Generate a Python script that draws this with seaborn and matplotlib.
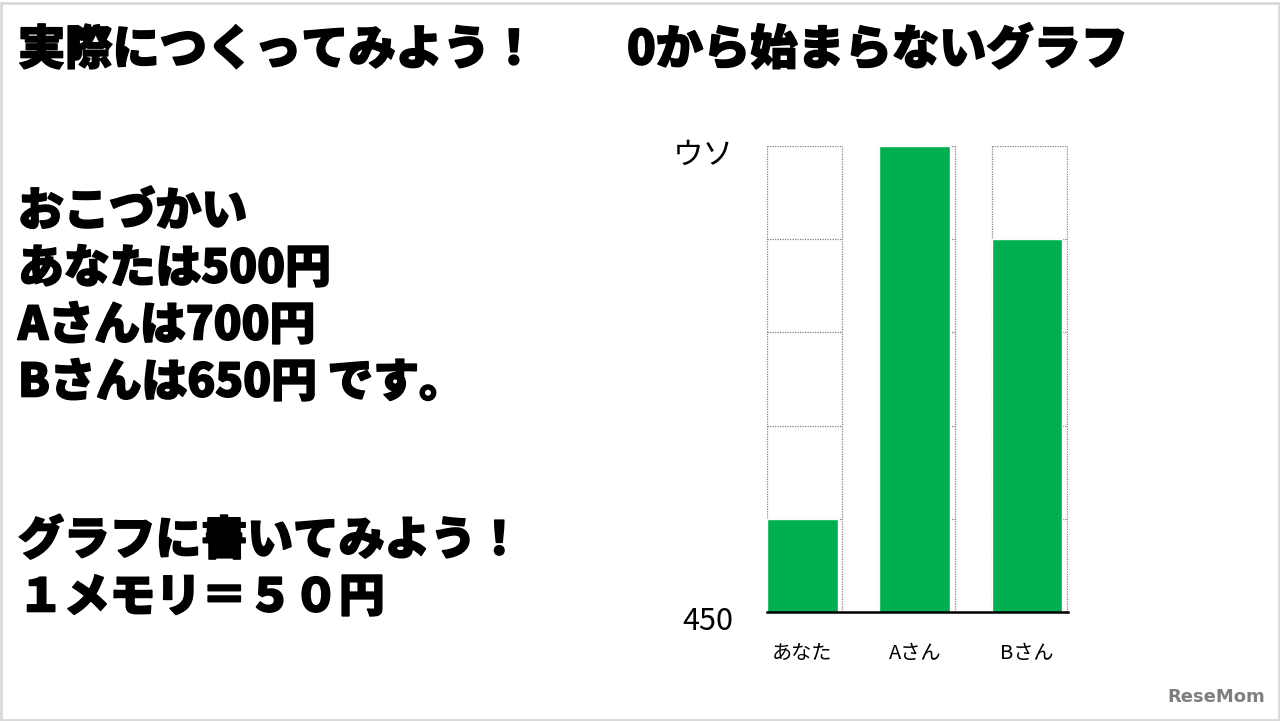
import matplotlib
matplotlib.use("Agg")
import matplotlib.pyplot as plt
import matplotlib.patheffects as pe
from matplotlib.transforms import ScaledTranslation
import seaborn as sns
import pandas as pd
from matplotlib.patches import Rectangle

# data
names = ["あなた", "Aさん", "Bさん"]
allowance = [500, 700, 650]
y_ticks = [450, 700]
y_tick_labels = ["450", "ウソ"]
grid_steps = [450, 500, 550, 600, 650, 700]

left_lines = ["おこづかい", "あなたは500円", "Aさんは700円", "Bさんは650円 です。"]
bottom_lines = ["グラフに書いてみよう！", "１メモリ＝５０円"]

sns.set_theme(style="white")
plt.rcParams["font.family"] = ["Noto Sans CJK JP", "DejaVu Sans"]
plt.rcParams["text.color"] = "black"
plt.rcParams["xtick.color"] = "black"
plt.rcParams["ytick.color"] = "black"

df = pd.DataFrame({"name": names, "yen": allowance})

W, H = 1280, 721
fig = plt.figure(figsize=(12.8, 7.21), dpi=100)
fig.patch.set_facecolor("white")
fig.patches.append(Rectangle((0.001, 0.001), 0.998, 0.995, transform=fig.transFigure,
                             fill=False, edgecolor="#d9d9d9", linewidth=2))

# chart area
ax = fig.add_axes([767 / W, 1 - 612 / H, (1068 - 767) / W, (612 - 146) / H])
bar_w = 0.63
sns.barplot(data=df, x="name", y="yen", color="#00b050", saturation=1,
            width=bar_w, ax=ax, zorder=3)

# dotted boxes for each column
box_w = 0.67
for i in range(len(names)):
    x0 = i - bar_w / 2
    x1 = x0 + box_w
    ax.vlines([x0, x1], grid_steps[0], grid_steps[-1], colors="#808080",
              linestyles=(0, (1, 1)), linewidth=0.9, zorder=1)
    ax.hlines(grid_steps[1:], x0, x1, colors="#808080",
              linestyles=(0, (1, 1)), linewidth=0.9, zorder=1)

ax.set_xlim(-bar_w / 2, 2 + 41 / 112.5)
ax.set_ylim(450, 700)
ax.set_yticks(y_ticks, labels=y_tick_labels)
ax.tick_params(axis="y", length=0, pad=24, labelsize=22)
ax.tick_params(axis="x", length=0, pad=22, labelsize=14.5)
ax.set_xlabel("")
ax.set_ylabel("")
shift = ScaledTranslation(0, -0.06, fig.dpi_scale_trans)
for lab in ax.get_yticklabels():
    lab.set_transform(lab.get_transform() + shift)
for s in ["top", "right", "left"]:
    ax.spines[s].set_visible(False)
ax.spines["bottom"].set_color("black")
ax.spines["bottom"].set_linewidth(1.8)
ax.spines["bottom"].set_zorder(4)

# slide texts
heavy = [pe.withStroke(linewidth=1.2, foreground="black")]
fig.text(18 / W, 1 - 50 / H, "実際につくってみよう！", fontsize=34, fontweight="heavy",
         va="center", ha="left", path_effects=heavy)
fig.text(627 / W, 1 - 50 / H, "0から始まらないグラフ", fontsize=34, fontweight="heavy",
         va="center", ha="left", path_effects=heavy)
for k, line in enumerate(left_lines):
    fig.text(18 / W, 1 - (212 + k * 57) / H, line, fontsize=33, fontweight="heavy",
             va="center", ha="left", path_effects=heavy)
for k, line in enumerate(bottom_lines):
    fig.text(18 / W, 1 - (541 + k * 57) / H, line, fontsize=33, fontweight="heavy",
             va="center", ha="left", path_effects=heavy)

fig.text(1265 / W, 1 - 697 / H, "ReseMom", fontsize=13, fontweight="bold",
         color="#7f7f7f", ha="right", va="center", family=["DejaVu Sans"])

fig.savefig("out.png", dpi=100, facecolor="white")
